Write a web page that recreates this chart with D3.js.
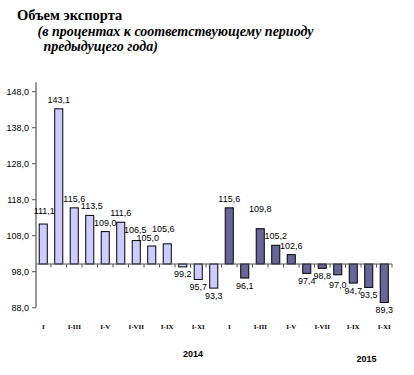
<!DOCTYPE html>
<html>
<head>
<meta charset="utf-8">
<script src="https://cdn.jsdelivr.net/npm/d3@7"></script>
<style>
  body { margin: 0; background: #fff; }
  svg { display: block; }
</style>
</head>
<body>
<svg id="chart" width="414" height="375"></svg>
<script>
// chart data
var periods2014 = ["I", "I-II", "I-III", "I-IV", "I-V", "I-VI", "I-VII", "I-VIII", "I-IX", "I-X", "I-XI", "I-XII"];
var periods2015 = ["I", "I-II", "I-III", "I-IV", "I-V", "I-VI", "I-VII", "I-VIII", "I-IX", "I-X", "I-XI"];
var values2014 = [111.1, 143.1, 115.6, 113.5, 109.0, 111.6, 106.5, 105.0, 105.6, 99.2, 95.7, 93.3];
var values2015 = [115.6, 96.1, 109.8, 105.2, 102.6, 97.4, 98.8, 97.0, 94.7, 93.5, 89.3];
var yTicks = [88, 98, 108, 118, 128, 138, 148];
var years = ["2014", "2015"];

var title = "Объем экспорта";
var subtitle = ["(в процентах к соответствующему периоду", "предыдущего года)"];

// build one flat list of bars
var bars = [];
periods2014.forEach(function (p, i) { bars.push({year: 2014, period: p, value: values2014[i]}); });
periods2015.forEach(function (p, i) { bars.push({year: 2015, period: p, value: values2015[i]}); });
bars.forEach(function (d, i) { d.index = i; });

// hand-tuned label offsets [dx, dy], like the manually dragged labels of the original
var labelNudge = {0: [1, -4], 3: [2, 0], 6: [-1, -2], 7: [-4, 1], 8: [-4, -6], 14: [0, -11], 19: [0, 3]};

var svg = d3.select("#chart");
var baseValue = 100;

var x = d3.scaleBand()
  .domain(bars.map(function (d) { return d.index; }))
  .range([35.5, 392])
  .paddingInner(0.48)
  .paddingOuter(0.24);

var y = d3.scaleLinear().domain([88, 148]).range([307.2, 91.2]);

var fmt = function (v) { return d3.format(".1f")(v).replace(".", ","); };

// titles
svg.append("text")
  .attr("x", 17).attr("y", 19.5)
  .style("font-family", "'Liberation Serif', 'Times New Roman', serif")
  .style("font-weight", "bold")
  .style("font-size", "14.5px")
  .text(title);

svg.selectAll("text.subtitle")
  .data(subtitle)
  .enter()
  .append("text")
  .attr("class", "subtitle")
  .attr("x", function (d, i) { return i === 0 ? 37.5 : 43.5; })
  .attr("y", function (d, i) { return 35.5 + i * 15; })
  .style("font-family", "'Liberation Serif', 'Times New Roman', serif")
  .style("font-style", "italic")
  .style("font-weight", "bold")
  .style("font-size", "14px")
  .text(function (d) { return d; });

// y axis
var yAxis = d3.axisLeft(y)
  .tickValues(yTicks)
  .tickSize(4)
  .tickPadding(3)
  .tickFormat(fmt);

var yAxisG = svg.append("g")
  .attr("transform", "translate(36,0)")
  .call(yAxis);
yAxisG.select(".domain").remove();
yAxisG.selectAll(".tick line").attr("stroke", "#555");
yAxisG.selectAll(".tick text")
  .style("font-family", "'Liberation Sans', Arial, sans-serif")
  .style("font-size", "9px")
  .attr("fill", "#000");

svg.append("line")
  .attr("x1", 36).attr("x2", 36)
  .attr("y1", y(150.5)).attr("y2", y(88))
  .attr("stroke", "#555").attr("stroke-width", 1.2);

// bars
svg.selectAll("rect.bar")
  .data(bars)
  .enter()
  .append("rect")
  .attr("class", "bar")
  .attr("x", function (d) { return x(d.index); })
  .attr("width", x.bandwidth())
  .attr("y", function (d) { return y(Math.max(d.value, baseValue)); })
  .attr("height", function (d) { return Math.abs(y(d.value) - y(baseValue)); })
  .attr("fill", function (d) { return d.year === 2014 ? "#ccccff" : "#666699"; })
  .attr("stroke", "#000")
  .attr("stroke-width", 1);

// category axis crossing at 100
var step = x.step();
var boundaries = bars.map(function (d) { return x(d.index) + x.bandwidth() + step * x.paddingInner() / 2; });

svg.append("line")
  .attr("x1", 36).attr("x2", 392)
  .attr("y1", y(baseValue)).attr("y2", y(baseValue))
  .attr("stroke", "#555").attr("stroke-width", 1.2);

svg.selectAll("line.xtick")
  .data(boundaries)
  .enter()
  .append("line")
  .attr("class", "xtick")
  .attr("x1", function (d) { return d; })
  .attr("x2", function (d) { return d; })
  .attr("y1", y(baseValue))
  .attr("y2", y(baseValue) + 3.5)
  .attr("stroke", "#555");

// value labels
svg.selectAll("text.value")
  .data(bars)
  .enter()
  .append("text")
  .attr("class", "value")
  .attr("text-anchor", "middle")
  .attr("x", function (d) {
    var n = labelNudge[d.index];
    return x(d.index) + x.bandwidth() / 2 + (n ? n[0] : 0);
  })
  .attr("y", function (d) {
    var n = labelNudge[d.index];
    var base = d.value >= baseValue ? y(d.value) - 6 : y(d.value) + 10.5;
    return base + (n ? n[1] : 0);
  })
  .style("font-family", "'Liberation Sans', Arial, sans-serif")
  .style("font-size", "9px")
  .text(function (d) { return fmt(d.value); });

// period labels (every other one is shown)
svg.selectAll("text.period")
  .data(bars.filter(function (d) { return d.index % 2 === 0; }))
  .enter()
  .append("text")
  .attr("class", "period")
  .attr("text-anchor", "middle")
  .attr("x", function (d) { return x(d.index) + x.bandwidth() / 2; })
  .attr("y", 328.5)
  .style("font-family", "'Liberation Serif', 'Times New Roman', serif")
  .style("font-weight", "bold")
  .style("font-size", "7px")
  .text(function (d) { return d.period; });

// year labels
svg.selectAll("text.year")
  .data(years)
  .enter()
  .append("text")
  .attr("class", "year")
  .attr("text-anchor", "middle")
  .attr("x", function (d, i) { return i === 0 ? 193 : 366.5; })
  .attr("y", function (d, i) { return i === 0 ? 357 : 362; })
  .style("font-family", "'Liberation Sans', Arial, sans-serif")
  .style("font-weight", "bold")
  .style("font-size", "9px")
  .text(function (d) { return d; });
</script>
</body>
</html>
